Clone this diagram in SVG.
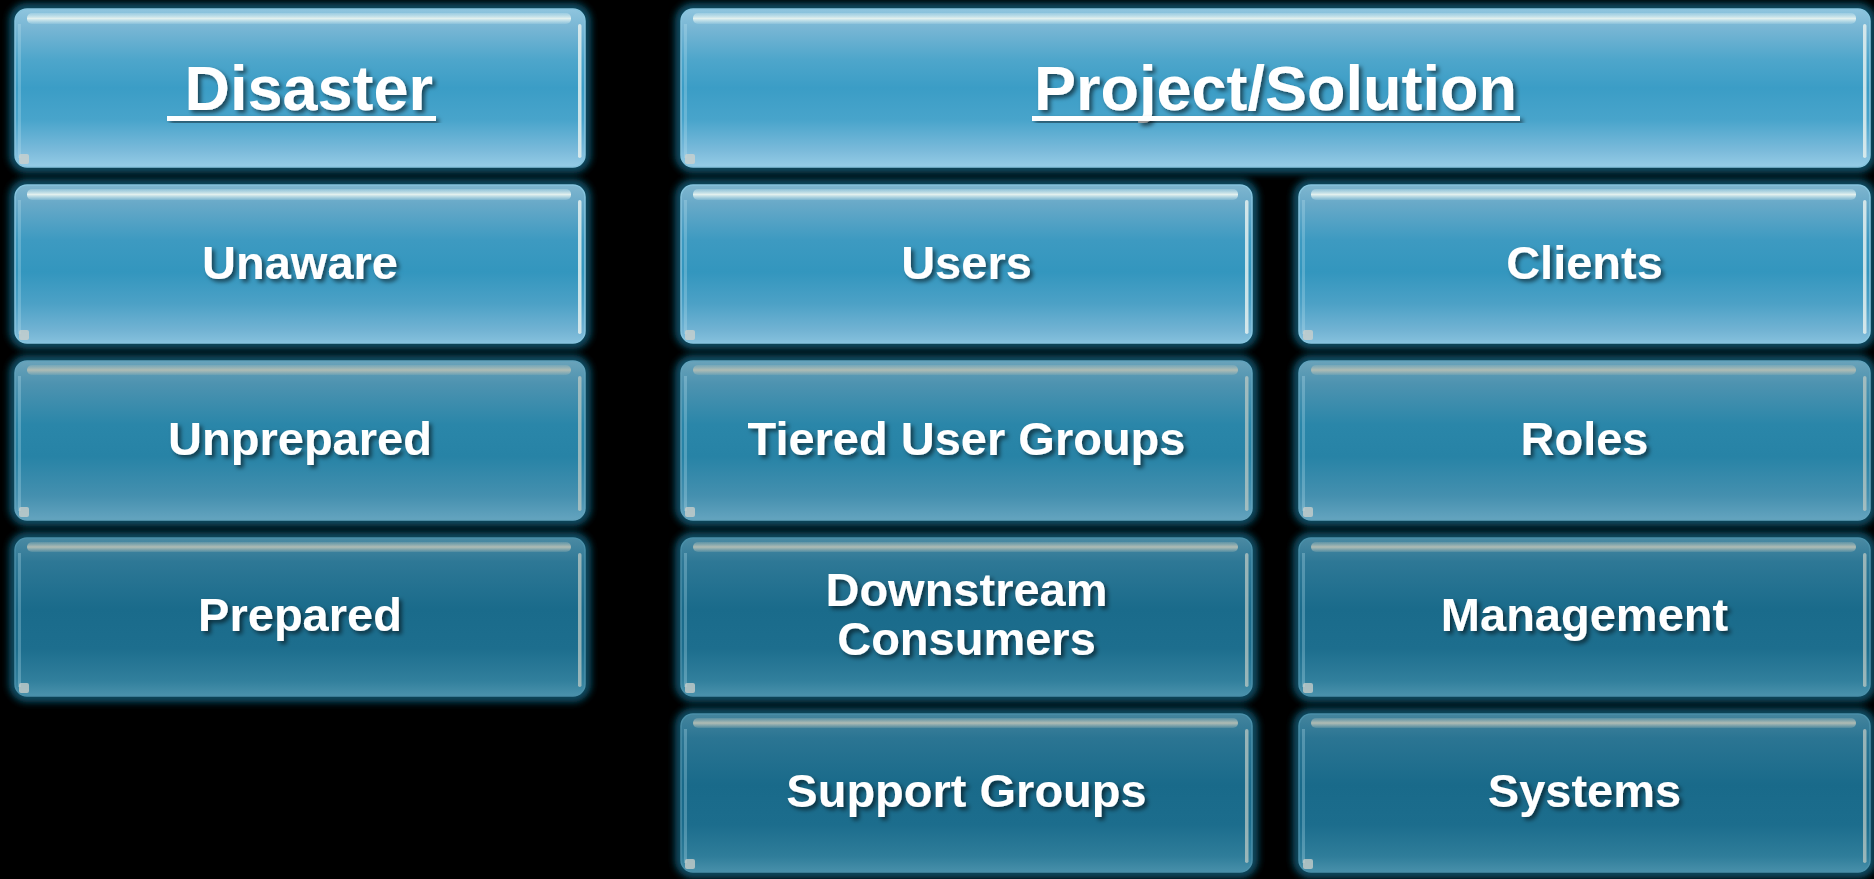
<svg xmlns="http://www.w3.org/2000/svg" width="1874" height="879" viewBox="0 0 1874 879">
<style>
.glow{fill:none;stroke:#0b5068;stroke-width:10;filter:url(#blur)}
.r1,.r2{stroke:#86c4de;stroke-width:1.5}
.r3{stroke:#62a2bc;stroke-width:1.5}
.r4,.r5{stroke:#4a8fa9;stroke-width:1.5}
.r1{fill:url(#g1)}.r2{fill:url(#g2)}.r3{fill:url(#g3)}.r4{fill:url(#g4)}.r5{fill:url(#g5)}
.hl1{fill:url(#h1)}.hl2{fill:url(#h2)}
.edgeR{fill:#e4f0ee;opacity:.85}
.edgeR2{fill:#bcc9c4;opacity:.75}
.edgeL{fill:#b8e0ef;opacity:.3}
.corner{fill:#cfd2cc;opacity:.75}
.t{font-family:"Liberation Sans",Arial,sans-serif;font-weight:bold;fill:#fff;text-anchor:middle;filter:url(#ts)}
.hd{font-size:63px}
.bd{font-size:47px}
.ul{fill:#fff;filter:url(#ts)}
</style>
<defs>
<filter id="blur" x="-10%" y="-20%" width="120%" height="140%"><feGaussianBlur stdDeviation="3.5"/></filter>
<filter id="ts" x="-10%" y="-30%" width="120%" height="160%"><feDropShadow dx="3" dy="3" stdDeviation="2" flood-color="#000" flood-opacity="0.55"/></filter>
<linearGradient id="g1" x1="0" y1="0" x2="0" y2="1">
<stop offset="0" stop-color="#8fc5de"/><stop offset="0.12" stop-color="#78b6d4"/><stop offset="0.32" stop-color="#4ea6cb"/><stop offset="0.5" stop-color="#3b9dc6"/><stop offset="0.7" stop-color="#48a4cb"/><stop offset="0.9" stop-color="#7cbbdb"/><stop offset="1" stop-color="#95cce6"/>
</linearGradient>
<linearGradient id="g2" x1="0" y1="0" x2="0" y2="1">
<stop offset="0" stop-color="#7fb6cf"/><stop offset="0.12" stop-color="#68a9c8"/><stop offset="0.35" stop-color="#3d9ac1"/><stop offset="0.55" stop-color="#3396be"/><stop offset="0.75" stop-color="#4ca1c6"/><stop offset="0.92" stop-color="#72b3d3"/><stop offset="1" stop-color="#86c1dd"/>
</linearGradient>
<linearGradient id="g3" x1="0" y1="0" x2="0" y2="1">
<stop offset="0" stop-color="#6aa3ba"/><stop offset="0.14" stop-color="#4e93b0"/><stop offset="0.4" stop-color="#2a86a9"/><stop offset="0.6" stop-color="#2783a6"/><stop offset="0.85" stop-color="#4590af"/><stop offset="1" stop-color="#64a4bf"/>
</linearGradient>
<linearGradient id="g4" x1="0" y1="0" x2="0" y2="1">
<stop offset="0" stop-color="#4b8aa3"/><stop offset="0.15" stop-color="#2e7896"/><stop offset="0.45" stop-color="#1a6b8b"/><stop offset="0.7" stop-color="#1d6e8e"/><stop offset="0.9" stop-color="#317f9c"/><stop offset="1" stop-color="#4a92ac"/>
</linearGradient>
<linearGradient id="g5" x1="0" y1="0" x2="0" y2="1">
<stop offset="0" stop-color="#45859e"/><stop offset="0.15" stop-color="#2b7593"/><stop offset="0.45" stop-color="#196a8a"/><stop offset="0.7" stop-color="#1c6d8d"/><stop offset="0.9" stop-color="#2f7d9a"/><stop offset="1" stop-color="#4890aa"/>
</linearGradient>
<linearGradient id="h1" x1="0" y1="0" x2="0" y2="1">
<stop offset="0" stop-color="#c8e6ee" stop-opacity="0.3"/><stop offset="0.5" stop-color="#e2f0ee"/><stop offset="1" stop-color="#c8e6ee" stop-opacity="0.2"/>
</linearGradient>
<linearGradient id="h2" x1="0" y1="0" x2="0" y2="1">
<stop offset="0" stop-color="#a9bcb8" stop-opacity="0.25"/><stop offset="0.5" stop-color="#b0bcb4"/><stop offset="1" stop-color="#a9bcb8" stop-opacity="0.2"/>
</linearGradient>
</defs>
<rect x="0" y="0" width="1874" height="879" fill="#000"/>

<g id="n-disaster">
<rect class="glow" x="14" y="8" width="572" height="160" rx="13"/>
<rect class="r1" x="15" y="9" width="570" height="158" rx="12"/>
<rect class="hl1" x="27" y="13" width="544" height="11" rx="5"/>
<rect class="edgeR" x="578" y="24" width="3.5" height="134" rx="1.75"/>
<rect class="edgeL" x="18" y="24" width="3" height="134"/>
<rect class="corner" x="19" y="154" width="10" height="10" rx="2"/>
<text class="t hd" x="300" y="110" xml:space="preserve"> Disaster</text>
<rect class="ul" x="167" y="116" width="269" height="5"/>
</g>

<g id="n-project">
<rect class="glow" x="680" y="8" width="1191" height="160" rx="13"/>
<rect class="r1" x="681" y="9" width="1189" height="158" rx="12"/>
<rect class="hl1" x="693" y="13" width="1163" height="11" rx="5"/>
<rect class="edgeR" x="1863" y="24" width="3.5" height="134" rx="1.75"/>
<rect class="edgeL" x="684" y="24" width="3" height="134"/>
<rect class="corner" x="685" y="154" width="10" height="10" rx="2"/>
<text class="t hd" x="1275.5" y="110">Project/Solution</text>
<rect class="ul" x="1032" y="116" width="488" height="5"/>
</g>

<g id="n-unaware">
<rect class="glow" x="14" y="184" width="572" height="160" rx="13"/>
<rect class="r2" x="15" y="185" width="570" height="158" rx="12"/>
<rect class="hl1" x="27" y="189" width="544" height="11" rx="5"/>
<rect class="edgeR" x="578" y="200" width="3.5" height="134" rx="1.75"/>
<rect class="edgeL" x="18" y="200" width="3" height="134"/>
<rect class="corner" x="19" y="330" width="10" height="10" rx="2"/>
<text class="t bd" x="300" y="279">Unaware</text>
</g>

<g id="n-users">
<rect class="glow" x="680" y="184" width="573" height="160" rx="13"/>
<rect class="r2" x="681" y="185" width="571" height="158" rx="12"/>
<rect class="hl1" x="693" y="189" width="545" height="11" rx="5"/>
<rect class="edgeR" x="1245" y="200" width="3.5" height="134" rx="1.75"/>
<rect class="edgeL" x="684" y="200" width="3" height="134"/>
<rect class="corner" x="685" y="330" width="10" height="10" rx="2"/>
<text class="t bd" x="966.5" y="279">Users</text>
</g>

<g id="n-clients">
<rect class="glow" x="1298" y="184" width="573" height="160" rx="13"/>
<rect class="r2" x="1299" y="185" width="571" height="158" rx="12"/>
<rect class="hl1" x="1311" y="189" width="545" height="11" rx="5"/>
<rect class="edgeR" x="1863" y="200" width="3.5" height="134" rx="1.75"/>
<rect class="edgeL" x="1302" y="200" width="3" height="134"/>
<rect class="corner" x="1303" y="330" width="10" height="10" rx="2"/>
<text class="t bd" x="1584.5" y="279">Clients</text>
</g>

<g id="n-unprepared">
<rect class="glow" x="14" y="360" width="572" height="161" rx="13"/>
<rect class="r3" x="15" y="361" width="570" height="159" rx="12"/>
<rect class="hl2" x="27" y="365" width="544" height="10" rx="5"/>
<rect class="edgeR2" x="578" y="376" width="3.5" height="135" rx="1.75"/>
<rect class="edgeL" x="18" y="376" width="3" height="135"/>
<rect class="corner" x="19" y="507" width="10" height="10" rx="2"/>
<text class="t bd" x="300" y="455">Unprepared</text>
</g>

<g id="n-tiered">
<rect class="glow" x="680" y="360" width="573" height="161" rx="13"/>
<rect class="r3" x="681" y="361" width="571" height="159" rx="12"/>
<rect class="hl2" x="693" y="365" width="545" height="10" rx="5"/>
<rect class="edgeR2" x="1245" y="376" width="3.5" height="135" rx="1.75"/>
<rect class="edgeL" x="684" y="376" width="3" height="135"/>
<rect class="corner" x="685" y="507" width="10" height="10" rx="2"/>
<text class="t bd" x="966.5" y="455">Tiered User Groups</text>
</g>

<g id="n-roles">
<rect class="glow" x="1298" y="360" width="573" height="161" rx="13"/>
<rect class="r3" x="1299" y="361" width="571" height="159" rx="12"/>
<rect class="hl2" x="1311" y="365" width="545" height="10" rx="5"/>
<rect class="edgeR2" x="1863" y="376" width="3.5" height="135" rx="1.75"/>
<rect class="edgeL" x="1302" y="376" width="3" height="135"/>
<rect class="corner" x="1303" y="507" width="10" height="10" rx="2"/>
<text class="t bd" x="1584.5" y="455">Roles</text>
</g>

<g id="n-prepared">
<rect class="glow" x="14" y="537" width="572" height="160" rx="13"/>
<rect class="r4" x="15" y="538" width="570" height="158" rx="12"/>
<rect class="hl2" x="27" y="542" width="544" height="10" rx="5"/>
<rect class="edgeR2" x="578" y="553" width="3.5" height="134" rx="1.75"/>
<rect class="edgeL" x="18" y="553" width="3" height="134"/>
<rect class="corner" x="19" y="683" width="10" height="10" rx="2"/>
<text class="t bd" x="300" y="631">Prepared</text>
</g>

<g id="n-downstream">
<rect class="glow" x="680" y="537" width="573" height="160" rx="13"/>
<rect class="r4" x="681" y="538" width="571" height="158" rx="12"/>
<rect class="hl2" x="693" y="542" width="545" height="10" rx="5"/>
<rect class="edgeR2" x="1245" y="553" width="3.5" height="134" rx="1.75"/>
<rect class="edgeL" x="684" y="553" width="3" height="134"/>
<rect class="corner" x="685" y="683" width="10" height="10" rx="2"/>
<text class="t bd" x="966.5" y="606">Downstream</text>
<text class="t bd" x="966.5" y="655">Consumers</text>
</g>

<g id="n-management">
<rect class="glow" x="1298" y="537" width="573" height="160" rx="13"/>
<rect class="r4" x="1299" y="538" width="571" height="158" rx="12"/>
<rect class="hl2" x="1311" y="542" width="545" height="10" rx="5"/>
<rect class="edgeR2" x="1863" y="553" width="3.5" height="134" rx="1.75"/>
<rect class="edgeL" x="1302" y="553" width="3" height="134"/>
<rect class="corner" x="1303" y="683" width="10" height="10" rx="2"/>
<text class="t bd" x="1584.5" y="631">Management</text>
</g>

<g id="n-support">
<rect class="glow" x="680" y="713" width="573" height="160" rx="13"/>
<rect class="r5" x="681" y="714" width="571" height="158" rx="12"/>
<rect class="hl2" x="693" y="718" width="545" height="10" rx="5"/>
<rect class="edgeR2" x="1245" y="729" width="3.5" height="134" rx="1.75"/>
<rect class="edgeL" x="684" y="729" width="3" height="134"/>
<rect class="corner" x="685" y="859" width="10" height="10" rx="2"/>
<text class="t bd" x="966.5" y="807">Support Groups</text>
</g>

<g id="n-systems">
<rect class="glow" x="1298" y="713" width="573" height="160" rx="13"/>
<rect class="r5" x="1299" y="714" width="571" height="158" rx="12"/>
<rect class="hl2" x="1311" y="718" width="545" height="10" rx="5"/>
<rect class="edgeR2" x="1863" y="729" width="3.5" height="134" rx="1.75"/>
<rect class="edgeL" x="1302" y="729" width="3" height="134"/>
<rect class="corner" x="1303" y="859" width="10" height="10" rx="2"/>
<text class="t bd" x="1584.5" y="807">Systems</text>
</g>

<g id="connectors"></g>
</svg>
